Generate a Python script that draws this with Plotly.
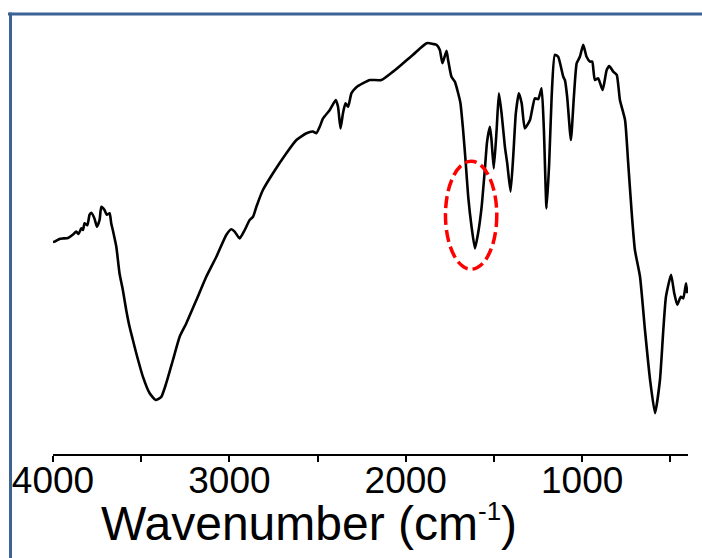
import plotly.graph_objects as go

# FT-IR spectrum (wavenumber in cm^-1, transmittance in a.u.)
wavenumber = [4000, 3991, 3960, 3944, 3915, 3888, 3868, 3855, 3840, 3830, 3821, 3805, 3793, 3783, 3765, 3751, 3736, 3726, 3708,
              3695, 3679, 3670, 3661, 3641, 3623, 3604, 3585, 3566, 3547, 3528, 3490, 3452, 3418,
              3386, 3358, 3320, 3282, 3244, 3187, 3131, 3074, 3017, 2989, 2970, 2942, 2913, 2885,
              2866, 2847, 2810, 2753, 2677, 2620, 2563, 2526, 2507, 2488, 2469, 2431, 2397, 2384,
              2370, 2356, 2342, 2327, 2308, 2280, 2242, 2204, 2138, 2072, 2015, 1959, 1920, 1882,
              1864, 1845, 1826, 1807, 1792, 1769, 1760, 1741, 1722, 1703, 1690, 1675, 1660, 1646,
              1627, 1608, 1590, 1570, 1552, 1539, 1523, 1514, 1501, 1485, 1472, 1457, 1438, 1425,
              1406, 1391, 1376, 1359, 1343, 1325, 1296, 1268, 1249, 1230, 1217, 1202, 1187, 1173,
              1155, 1136, 1107, 1098, 1085, 1064, 1047, 1031, 1013, 994, 975, 956, 943, 928, 909,
              884, 861, 846, 824, 804, 786, 757, 739, 719, 701, 672, 644, 615, 587, 559, 540, 525,
              496, 478, 461, 441, 427, 411, 404]
transmittance = [53.0, 53.1, 53.8, 53.9, 54.0, 54.8, 55.6, 55.0, 56.4, 56.0, 57.7, 57.2, 59.8, 60.3, 58.9, 56.8, 58.5, 61.8, 61.0,
                 59.8, 60.2, 57.7, 56.0, 51.8, 45.2, 41.0, 36.0, 31.8, 28.5, 25.2, 19.3, 15.2, 13.5,
                 14.3, 17.7, 23.5, 29.3, 32.7, 38.5, 44.3, 49.3, 54.8, 56.2, 55.6, 53.9, 56.0, 58.5,
                 59.3, 61.8, 66.0, 70.2, 75.2, 78.5, 80.2, 80.6, 80.2, 81.8, 83.9, 86.0, 88.5, 86.8,
                 81.4, 85.2, 87.7, 86.8, 90.2, 91.7, 92.7, 93.5, 93.5, 95.6, 97.7, 99.8, 101.4, 102.7,
                 102.7, 102.5, 102.3, 101.0, 97.7, 100.8, 98.5, 94.3, 93.1, 90.2, 87.7, 81.0, 72.7, 64.3,
                 56.8, 51.4, 55.2, 61.8, 71.0, 78.1, 81.8, 78.5, 71.4, 81.0, 90.2, 85.2, 76.8, 72.7,
                 65.6, 74.3, 85.2, 90.2, 87.7, 81.4, 83.5, 88.9, 88.7, 91.4, 81.0, 61.4, 72.7, 89.3,
                 99.8, 99.3, 94.3, 93.5, 89.3, 78.5, 89.3, 97.7, 99.3, 102.3, 99.3, 98.1, 98.1, 93.5, 93.9,
                 91.0, 96.0, 97.0, 95.6, 94.8, 88.5, 83.5, 72.7, 60.2, 51.0, 44.3, 31.0, 18.5, 10.2, 18.5, 31.0, 39.3,
                 44.8, 40.2, 37.3, 39.3, 38.9, 42.7, 40.2]

# highlighted band (ellipse bounds, data units)
band_wn = [1775, 1484]
band_t = [46.2, 73.2]

x_ticks = [4000, 3000, 2000, 1000]
x_tick_text = ["4000", "3000", "2000", "1000"]
x_minor_ticks = [3500, 2500, 1500, 500]

fig = go.Figure()
fig.add_trace(go.Scatter(
    x=wavenumber, y=transmittance, mode="lines",
    line=dict(color="black", width=2.6, shape="spline", smoothing=0.5),
    showlegend=False, hoverinfo="skip"))

fig.add_shape(type="circle", xref="x", yref="y",
              x0=band_wn[0], x1=band_wn[1], y0=band_t[0], y1=band_t[1],
              line=dict(color="#FF0000", width=3.5, dash="12px,5px"))

frame_color = "#3D6294"
fig.add_shape(type="line", xref="paper", yref="paper",
              x0=-0.0709, x1=1.03, y0=1.0138, y1=1.0138,
              line=dict(color=frame_color, width=3))
fig.add_shape(type="line", xref="paper", yref="paper",
              x0=-0.0669, x1=-0.0669, y0=1.017, y1=-0.25,
              line=dict(color=frame_color, width=3))

fig.add_annotation(xref="paper", yref="paper", x=0.4024, y=-0.159,
                   xanchor="center", yanchor="middle", showarrow=False,
                   text="Wavenumber (cm<sup><span style='font-size:26px'>-1</span></sup>)",
                   font=dict(family="Liberation Sans, Arial", size=48, color="black"))

fig.update_layout(
    width=702, height=558,
    margin=dict(l=53, r=14, t=20, b=104),
    paper_bgcolor="white", plot_bgcolor="white",
    font=dict(family="Liberation Sans, Arial", color="black"),
    xaxis=dict(range=[4000, 400], tickvals=x_ticks, ticktext=x_tick_text,
               showline=True, linecolor="black", linewidth=2,
               ticks="outside", ticklen=6, tickwidth=1.5, tickcolor="black",
               ticklabelstandoff=-13,
               minor=dict(ticks="outside", ticklen=6, tickwidth=1.5, tickcolor="black",
                          tickvals=x_minor_ticks),
               tickfont=dict(size=37, family="Liberation Sans, Arial", color="black"),
               showgrid=False, zeroline=False),
    yaxis=dict(range=[0, 108.5], visible=False, showgrid=False, zeroline=False),
)

fig.write_html("out.html")
